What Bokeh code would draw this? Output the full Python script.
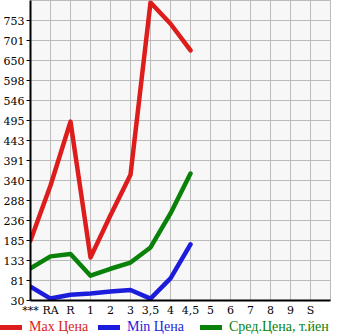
from bokeh.plotting import figure
from bokeh.layouts import column
from bokeh.models import Range1d, FixedTicker, Legend, LegendItem
from bokeh.embed import file_html
from bokeh.resources import INLINE

categories = ["***", "RA", "R", "1", "2", "3", "3,5", "4", "4,5", "5", "6", "7", "8", "9", "S"]
max_price = [185, 327, 492, 141, 250, 355, 800, 745, 676]
min_price = [66, 35, 45, 48, 53, 57, 35, 87, 175]
avg_price = [113, 144, 150, 94, 112, 128, 167, 255, 358]
series_names = ["Max Цена", "Min Цена", "Сред.Цена, т.йен"]
series_colors = ["#dd1c1c", "#1c1cdd", "#0a820a"]
y_min, y_max = 30, 805
y_ticks = [30 + k * (y_max - y_min) / 15 for k in range(15)]
y_labels = [str(int(t + 1e-9)) for t in y_ticks]

xs = list(range(len(categories)))
series = [max_price, min_price, avg_price]

p = figure(width=345, height=320, output_backend="svg", toolbar_location=None,
           x_range=Range1d(0, 15), y_range=Range1d(y_min, y_max),
           min_border_left=30, min_border_right=15, min_border_top=0, min_border_bottom=20)
p.background_fill_color = "#f7f7f7"
p.border_fill_color = "white"
p.outline_line_color = "#bbbbbb"

p.xaxis.ticker = FixedTicker(ticks=xs)
p.xaxis.major_label_overrides = {i: c for i, c in enumerate(categories)}
p.yaxis.ticker = FixedTicker(ticks=y_ticks)
p.yaxis.major_label_overrides = {t: l for t, l in zip(y_ticks, y_labels)}

p.xgrid.ticker = FixedTicker(ticks=list(range(1, 16)))
for g in (p.xgrid, p.ygrid):
    g.grid_line_color = "#bbbbbb"
    g.grid_line_width = 1

for ax in (p.xaxis, p.yaxis):
    ax.axis_line_color = "black"
    ax.axis_line_width = 2
    ax.major_label_text_font = "DejaVu Serif"
    ax.major_label_text_font_size = "11px"
    ax.major_label_text_color = "black"
    ax.minor_tick_line_color = None
p.yaxis.major_tick_in = 0
p.yaxis.major_tick_out = 4
p.yaxis.major_tick_line_color = "black"
p.yaxis.major_label_standoff = 2
p.xaxis.major_tick_line_color = None
p.xaxis.major_tick_in = 0
p.xaxis.major_tick_out = 0
p.xaxis.major_label_standoff = 3

n = len(max_price)
for vals, col in zip(series, series_colors):
    p.line(xs[:n], vals, line_color=col, line_width=4.5,
           line_cap="round", line_join="round")

# legend strip below the chart (series drawn out of view, only legends show)
lf = figure(width=345, height=15, output_backend="svg", toolbar_location=None,
            x_axis_type=None, y_axis_type=None,
            x_range=Range1d(0, 1), y_range=Range1d(-2, -1),
            min_border=0, min_border_left=0, min_border_right=0,
            min_border_top=0, min_border_bottom=0)
for fig in (p, lf):
    if "frame_align" in fig.properties():
        fig.frame_align = False
lf.outline_line_color = None
lf.grid.visible = False
lf.background_fill_color = "white"
legend_x = [0, 98, 200]
for vals, name, col, lx in zip(series, series_names, series_colors, legend_x):
    r = lf.line(xs[:n], vals, line_color=col, line_width=5, line_cap="round")
    lg = Legend(items=[LegendItem(label=name, renderers=[r])], location=(lx, 0))
    lg.glyph_width = 22
    lg.glyph_height = 14
    lg.label_height = 14
    lg.label_standoff = 7
    lg.padding = 0
    lg.margin = 0
    lg.border_line_color = None
    lg.background_fill_alpha = 0
    lg.label_text_font = "Liberation Serif"
    lg.label_text_font_size = "14px"
    lg.label_text_color = col
    lf.add_layout(lg, "center")

layout = column(p, lf, spacing=0)
open("out.html", "w").write(file_html(layout, INLINE))
